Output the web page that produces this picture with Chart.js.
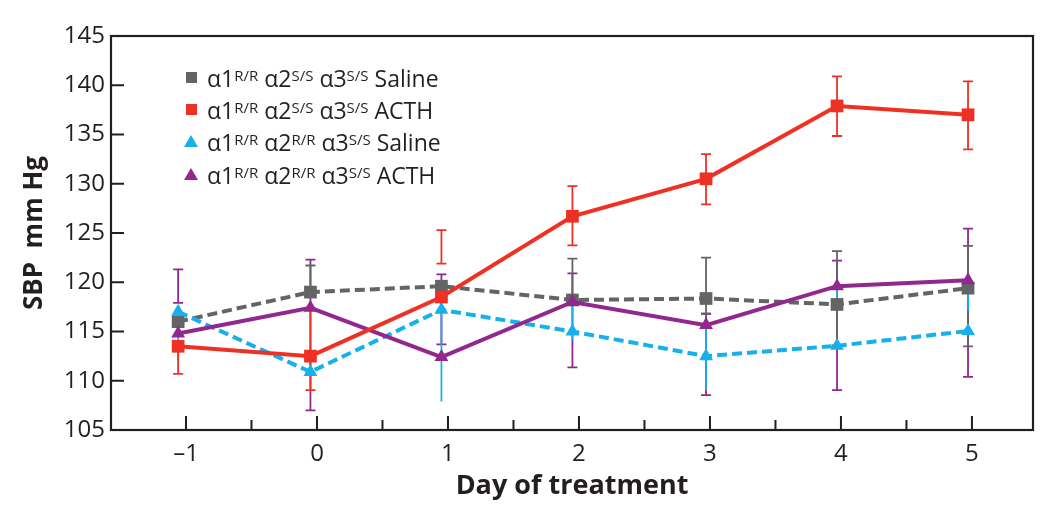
<!DOCTYPE html>
<html>
<head>
<meta charset="utf-8">
<script src="https://cdn.jsdelivr.net/npm/chart.js@4.4.1/dist/chart.umd.min.js"></script>
<style>
  html, body { margin: 0; padding: 0; background: #fff; }
  #wrap { position: relative; width: 1050px; height: 517px; }
  #legend { position: absolute; left: 184px; top: 62px; font-family: "Open Sans", sans-serif;
            font-size: 23px; color: #231f20; line-height: 32.2px; }
  #legend .row { display: flex; align-items: center; white-space: nowrap; height: 32.2px; }
  #legend .mk { width: 15px; height: 12px; margin-right: 8px; position: relative; }
  #legend .sq { position: absolute; left: 2px; top: 0; width: 11px; height: 11px; }
  #legend .tri { position: absolute; left: 0; top: -1px; width: 0; height: 0;
                 border-left: 7.5px solid transparent; border-right: 7.5px solid transparent; }
  #legend sup { font-size: 15px; position: relative; top: -3px; vertical-align: top; line-height: 0; margin-right: 6px; }
</style>
</head>
<body>
<div id="wrap">
  <canvas id="chart" width="1050" height="517"></canvas>
  <div id="legend"></div>
</div>
<script>
// x positions of the plotted points (they sit a little left of the day ticks)
const days = [-1, 0, 1, 2, 3, 4, 5];
const dayPos = [-1.06, -0.05, 0.95, 1.95, 2.97, 3.97, 4.97];
const yTicks = [105, 110, 115, 120, 125, 130, 135, 140, 145];

// mean SBP, mm Hg
const ssSaline = [116.0, 119.0, 119.6, 118.2, 118.35, 117.75, 119.4];
const ssActh   = [113.5, 112.5, 118.5, 126.7, 130.5, 137.9, 137.0];
const rrSaline = [117.0, 110.9, 117.2, 115.0, 112.5, 113.55, 115.05];
const rrActh   = [114.8, 117.4, 112.4, 118.0, 115.65, 119.6, 120.2];

// error bar ends [low, high] as they appear in the figure
const ssSalineErr = [null, [119.0, 121.7], null, [118.2, 122.4], [116.8, 122.5], [113.6, 123.15], [113.5, 123.7]];
const ssActhErr   = [[110.7, 113.5], [109.05, 117.4], [121.9, 125.3], [123.75, 129.75], [127.9, 133.0], [134.85, 140.9], [133.5, 140.4]];
const rrSalineErr = [[112.1, 117.0], null, [107.9, 117.2], [114.1, 118.0], [109.05, 115.65], [117.8, 119.6], [117.1, 118.9]];
const rrActhErr   = [[117.9, 121.3], [107.0, 122.3], [113.7, 120.8], [111.35, 120.9], [108.55, 116.8], [109.05, 122.2], [110.4, 125.45]];

const legendRows = [
  { sup: ["R/R", "S/S", "S/S"], name: "Saline", color: "#636466", shape: "sq" },
  { sup: ["R/R", "S/S", "S/S"], name: "ACTH",   color: "#ee3124", shape: "sq" },
  { sup: ["R/R", "R/R", "S/S"], name: "Saline", color: "#16b1ec", shape: "tri" },
  { sup: ["R/R", "R/R", "S/S"], name: "ACTH",   color: "#92278f", shape: "tri" }
];

const INK = "#231f20";
const FONT = '"Open Sans", sans-serif';

function pts(vals) {
  return vals.map((v, i) => ({ x: dayPos[i], y: v }));
}

const errorBars = {
  id: "errorBars",
  beforeDatasetsDraw(chart) {
    const ctx = chart.ctx, xs = chart.scales.x, ys = chart.scales.y;
    // purple first, then gray, cyan, red on top
    [3, 0, 2, 1].forEach(di => {
      const ds = chart.data.datasets[di];
      ctx.save();
      ctx.strokeStyle = ds.borderColor;
      ctx.lineWidth = 1.8;
      ds.errBars.forEach((e, i) => {
        if (!e) return;
        const x = xs.getPixelForValue(dayPos[i]);
        const y1 = ys.getPixelForValue(e[0]), y2 = ys.getPixelForValue(e[1]);
        ctx.beginPath();
        ctx.moveTo(x, y1); ctx.lineTo(x, y2);
        if (ds.capW) {
          ctx.moveTo(x - ds.capW / 2, y1); ctx.lineTo(x + ds.capW / 2, y1);
          ctx.moveTo(x - ds.capW / 2, y2); ctx.lineTo(x + ds.capW / 2, y2);
        }
        ctx.stroke();
      });
      ctx.restore();
    });
  }
};

const frame = {
  id: "frame",
  afterDatasetsDraw(chart) {
    const ctx = chart.ctx, a = chart.chartArea, xs = chart.scales.x, ys = chart.scales.y;
    ctx.save();
    ctx.strokeStyle = INK;
    ctx.lineWidth = 2.2;
    ctx.strokeRect(a.left, a.top, a.right - a.left, a.bottom - a.top);
    ctx.lineWidth = 2;
    ctx.beginPath();
    yTicks.forEach(v => {
      const y = ys.getPixelForValue(v);
      ctx.moveTo(a.left, y); ctx.lineTo(a.left + 13, y);
    });
    days.forEach(d => {
      let x = xs.getPixelForValue(d);
      ctx.moveTo(x, a.bottom); ctx.lineTo(x, a.bottom - 14);
      if (d + 0.5 < xs.max) {
        x = xs.getPixelForValue(d + 0.5);
        ctx.moveTo(x, a.bottom); ctx.lineTo(x, a.bottom - 10);
      }
    });
    ctx.stroke();
    ctx.restore();
  }
};

new Chart(document.getElementById("chart"), {
  type: "line",
  data: {
    datasets: [
      { label: "α1R/R α2S/S α3S/S Saline", data: pts(ssSaline), errBars: ssSalineErr, capW: 10,
        borderColor: "#636466", backgroundColor: "#636466", borderDash: [10, 5], pointStyle: "rect", pointRadius: 9, order: 3 },
      { label: "α1R/R α2S/S α3S/S ACTH", data: pts(ssActh), errBars: ssActhErr, capW: 10,
        borderColor: "#ee3124", backgroundColor: "#ee3124", pointStyle: "rect", pointRadius: 9, order: 0 },
      { label: "α1R/R α2R/R α3S/S Saline", data: pts(rrSaline), errBars: rrSalineErr, capW: 0,
        borderColor: "#16b1ec", backgroundColor: "#16b1ec", borderDash: [10, 5], pointStyle: "triangle", pointRadius: 8, order: 2 },
      { label: "α1R/R α2R/R α3S/S ACTH", data: pts(rrActh), errBars: rrActhErr, capW: 10,
        borderColor: "#92278f", backgroundColor: "#92278f", pointStyle: "triangle", pointRadius: 8, order: 1 }
    ]
  },
  options: {
    responsive: false,
    animation: false,
    layout: { padding: { top: 36, right: 17, left: 0, bottom: 0 } },
    elements: {
      line: { borderWidth: 4, tension: 0 },
      point: { borderWidth: 0, hoverRadius: 8 }
    },
    plugins: { legend: { display: false }, tooltip: { enabled: false } },
    scales: {
      x: {
        type: "linear", min: -1.5725, max: 5.466,
        grid: { display: false, drawTicks: false }, border: { display: false },
        afterBuildTicks: s => { s.ticks = days.map(v => ({ value: v })); },
        afterFit: s => { s.height = 87; },
        ticks: { color: INK, font: { family: FONT, size: 24 }, padding: 10,
                 callback: v => v < 0 ? "–" + Math.abs(v) : String(v) },
        title: { display: true, text: "Day of treatment", color: INK,
                 font: { family: FONT, size: 27, weight: "bold" }, padding: { top: 0, bottom: 14 } }
      },
      y: {
        min: 105, max: 145,
        grid: { display: false, drawTicks: false }, border: { display: false },
        afterBuildTicks: s => { s.ticks = yTicks.map(v => ({ value: v })); },
        afterFit: s => { s.width = 111; },
        ticks: { color: INK, font: { family: FONT, size: 24 }, padding: 6 },
        title: { display: true, text: "SBP  mm Hg", color: INK,
                 font: { family: FONT, size: 26, weight: "bold" }, padding: { top: 19, bottom: 0 } }
      }
    }
  },
  plugins: [errorBars, frame]
});

const legend = document.getElementById("legend");
legendRows.forEach(r => {
  const row = document.createElement("div");
  row.className = "row";
  const mark = r.shape === "sq"
    ? `<span class="sq" style="background:${r.color}"></span>`
    : `<span class="tri" style="border-bottom:12px solid ${r.color}"></span>`;
  row.innerHTML = `<span class="mk">${mark}</span>` +
    `α1<sup>${r.sup[0]}</sup>α2<sup>${r.sup[1]}</sup>α3<sup>${r.sup[2]}</sup>${r.name}`;
  legend.appendChild(row);
});
</script>
</body>
</html>
